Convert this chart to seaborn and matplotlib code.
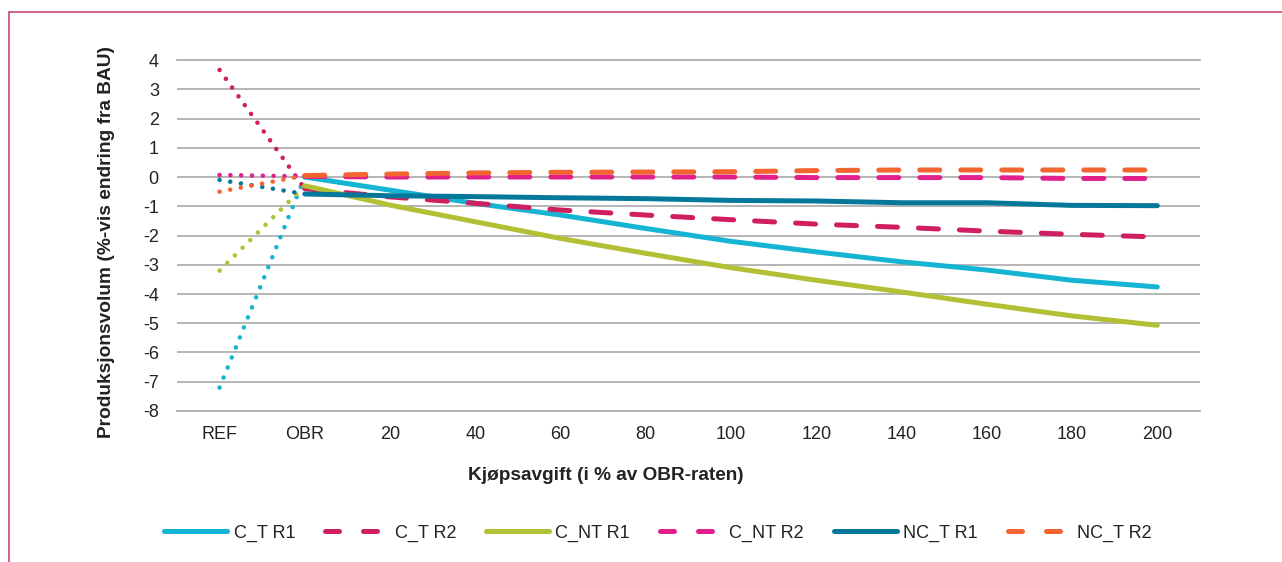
import matplotlib
matplotlib.use("Agg")
import matplotlib.pyplot as plt
from matplotlib.lines import Line2D
import pandas as pd
import seaborn as sns

# -------------------------
# Data
# -------------------------
x_labels = ["REF", "OBR", "20", "40", "60", "80", "100", "120", "140", "160", "180", "200"]
series_names = ["C_T R1", "C_T R2", "C_NT R1", "C_NT R2", "NC_T R1", "NC_T R2"]

c_t_r1 = [-7.2, 0.0, -0.45, -0.9, -1.3, -1.76, -2.2, -2.56, -2.9, -3.18, -3.53, -3.76]
c_t_r2 = [3.66, -0.4, -0.68, -0.9, -1.13, -1.3, -1.46, -1.61, -1.72, -1.85, -1.96, -2.05]
c_nt_r1 = [-3.2, -0.3, -0.96, -1.53, -2.1, -2.61, -3.1, -3.53, -3.93, -4.35, -4.75, -5.07]
c_nt_r2 = [0.07, 0.02, 0.0, 0.0, 0.0, 0.0, 0.0, -0.02, -0.02, -0.02, -0.05, -0.05]
nc_t_r1 = [-0.1, -0.58, -0.64, -0.67, -0.71, -0.74, -0.8, -0.82, -0.88, -0.88, -0.97, -0.98]
nc_t_r2 = [-0.5, 0.05, 0.1, 0.14, 0.16, 0.17, 0.18, 0.22, 0.24, 0.24, 0.24, 0.24]

series_values = [c_t_r1, c_t_r2, c_nt_r1, c_nt_r2, nc_t_r1, nc_t_r2]

# -------------------------
# Style
# -------------------------
colors = {
    "C_T R1": "#14b4d2",
    "C_T R2": "#cf1f60",
    "C_NT R1": "#b2c035",
    "C_NT R2": "#e2208c",
    "NC_T R1": "#04789a",
    "NC_T R2": "#f26430",
}
dash_map = {
    "C_T R1": "",
    "C_T R2": (4.0, 4.2),
    "C_NT R1": "",
    "C_NT R2": (4.0, 4.2),
    "NC_T R1": "",
    "NC_T R2": (4.0, 4.2),
}

sns.set_theme(style="white")
plt.rcParams["font.family"] = ["Liberation Sans", "DejaVu Sans"]
plt.rcParams["axes.unicode_minus"] = False
text_color = "#222222"
grid_color = "#b0b0b0"

# long table
rows = []
for name, vals in zip(series_names, series_values):
    for i, v in enumerate(vals):
        rows.append({"series": name, "pos": i, "value": v})
df = pd.DataFrame(rows)
main = df[df["pos"] >= 1]
lead = df[df["pos"] <= 1]

fig = plt.figure(figsize=(12.82, 5.62), dpi=100)
ax = fig.add_axes([0.138, 0.2687, 0.798, 0.6245])

# dotted lead-in REF -> OBR
sns.lineplot(
    data=lead, x="pos", y="value", hue="series", hue_order=series_names,
    palette=colors, linewidth=3.3, linestyle=(0, (0.01, 2.35)),
    dash_capstyle="round", legend=False, ax=ax, sort=False,
)
# main curves OBR -> 200
sns.lineplot(
    data=main, x="pos", y="value", hue="series", style="series",
    hue_order=series_names, style_order=series_names,
    palette=colors, dashes=dash_map, linewidth=3.6,
    dash_capstyle="round", solid_capstyle="round",
    legend=False, ax=ax, sort=False,
)

ax.set_xlim(-0.5, len(x_labels) - 0.5)
ax.set_ylim(-8, 4)
ax.set_xticks(range(len(x_labels)))
ax.set_xticklabels(x_labels)
ax.set_yticks(range(-8, 5))
ax.tick_params(axis="both", length=0, labelsize=13, colors=text_color)
ax.tick_params(axis="y", pad=13)
ax.tick_params(axis="x", pad=11)
ax.yaxis.grid(True, color=grid_color, linewidth=1.3)
ax.set_axisbelow(True)
for side in ["left", "right"]:
    ax.spines[side].set_visible(False)
for side in ["top", "bottom"]:
    ax.spines[side].set_color(grid_color)
    ax.spines[side].set_linewidth(1.3)

ax.set_ylabel("Produksjonsvolum (%-vis endring fra BAU)", fontsize=13.8,
              fontweight="bold", color=text_color)
ax.yaxis.set_label_coords(-0.0605, 0.481)
ax.set_xlabel("Kjøpsavgift (i % av OBR-raten)", fontsize=13.7,
              fontweight="bold", color=text_color)
ax.xaxis.set_label_coords(0.419, -0.16)

# legend
handles = []
for name in series_names:
    d = dash_map[name]
    h = Line2D([], [], color=colors[name], linewidth=3.6,
               dash_capstyle="round", solid_capstyle="round")
    if d:
        h.set_dashes((2.8, 4.8))
    handles.append(h)
fig.legend(handles, series_names, loc="center", ncol=6,
           bbox_to_anchor=(658 / 1282, 1 - 533 / 562), frameon=False,
           fontsize=13, handlelength=3.5, handletextpad=0.35,
           columnspacing=1.65, labelcolor=text_color)

# frame border (top and left)
border = "#c8487c"
fig.add_artist(Line2D([9 / 1282, 9 / 1282], [0, 1 - 12 / 562], color=border,
                      linewidth=1.2, transform=fig.transFigure))
fig.add_artist(Line2D([9 / 1282, 1], [1 - 12 / 562, 1 - 12 / 562], color=border,
                      linewidth=1.2, transform=fig.transFigure))

fig.savefig("out.png", dpi=100, facecolor="white")
plt.close(fig)
